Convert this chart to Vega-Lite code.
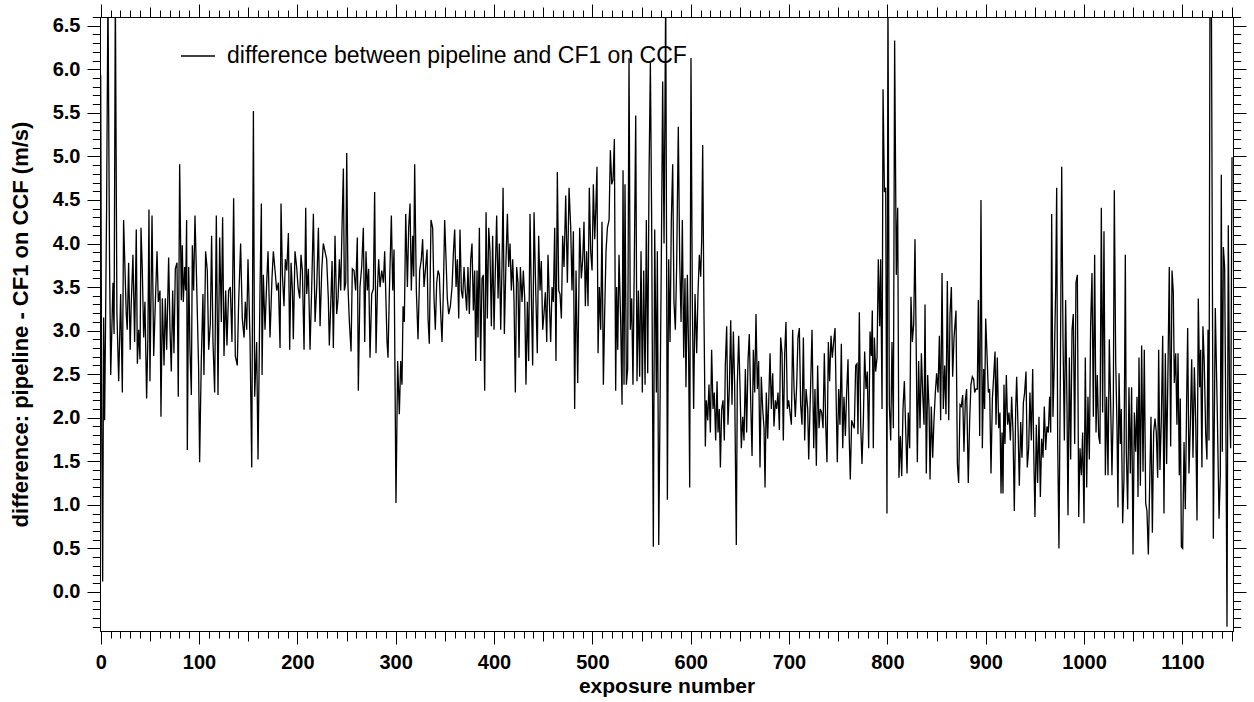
{
"$schema": "https://vega.github.io/schema/vega-lite/v6.json",
"width": 1133, "height": 614,
"autosize": {"type": "none"},
"padding": {"left": 100, "top": 17, "right": 21, "bottom": 71},
"background": "white",
"config": {"view": {"stroke": "black", "strokeWidth": 1}, "font": "Liberation Sans"},
"data": {"values": [
{"x":0,"y":5.93},{"x":1,"y":2.0},{"x":2,"y":0.12},{"x":3,"y":3.15},{"x":4,"y":1.97},{"x":5,"y":3.15},{"x":6,"y":4.4},{"x":7.4,"y":6.9},{"x":9,"y":3.8},{"x":10.2,"y":2.49},{"x":12.5,"y":3.55},{"x":13.6,"y":2.96},{"x":14.9,"y":6.9},{"x":16.5,"y":3.2},{"x":18.3,"y":2.42},{"x":20.3,"y":3.42},{"x":22,"y":2.29},{"x":23.3,"y":4.27},{"x":26,"y":3.19},{"x":27,"y":3.01},{"x":28.4,"y":3.78},{"x":30,"y":2.78},{"x":31,"y":3.28},{"x":32.8,"y":3.87},{"x":34.5,"y":2.87},{"x":36.2,"y":4.16},{"x":37.3,"y":2.62},{"x":38.6,"y":3.01},{"x":40,"y":2.67},{"x":41,"y":4.18},{"x":42.3,"y":3.71},{"x":43.7,"y":2.92},{"x":45,"y":3.33},{"x":46.7,"y":2.22},{"x":48,"y":2.92},{"x":49.1,"y":4.39},{"x":50.1,"y":2.42},{"x":52.2,"y":4.32},{"x":53.9,"y":2.71},{"x":55.6,"y":3.33},{"x":57.3,"y":3.91},{"x":58.6,"y":3.33},{"x":60.3,"y":3.46},{"x":61.3,"y":2.01},{"x":62.7,"y":3.37},{"x":64.4,"y":2.6},{"x":65.7,"y":3.37},{"x":67.1,"y":2.78},{"x":69.1,"y":3.84},{"x":70.5,"y":3.01},{"x":71.8,"y":2.53},{"x":73.2,"y":3.46},{"x":74.5,"y":2.74},{"x":75.9,"y":3.71},{"x":77.6,"y":3.78},{"x":78.9,"y":2.24},{"x":80.3,"y":4.91},{"x":82,"y":3.35},{"x":83,"y":3.98},{"x":84,"y":3.33},{"x":85.4,"y":3.73},{"x":86.4,"y":3.46},{"x":87.4,"y":4.27},{"x":88.1,"y":1.63},{"x":89.5,"y":3.73},{"x":90.8,"y":2.78},{"x":92.2,"y":2.26},{"x":93.2,"y":3.98},{"x":94.5,"y":3.46},{"x":95.9,"y":4.32},{"x":97.2,"y":3.73},{"x":98.3,"y":3.19},{"x":99.6,"y":2.56},{"x":100.6,"y":1.49},{"x":102.3,"y":2.65},{"x":104,"y":3.42},{"x":105,"y":2.49},{"x":106.7,"y":3.91},{"x":108.4,"y":3.69},{"x":109.8,"y":2.78},{"x":111.5,"y":3.08},{"x":112.8,"y":4.09},{"x":114.2,"y":2.87},{"x":115.9,"y":2.29},{"x":117.6,"y":4.32},{"x":119.3,"y":2.26},{"x":121,"y":4.07},{"x":122.7,"y":3.1},{"x":124,"y":4.3},{"x":125.4,"y":2.71},{"x":127.1,"y":3.46},{"x":128.4,"y":2.83},{"x":130.1,"y":3.46},{"x":131.8,"y":3.5},{"x":133.5,"y":2.87},{"x":135.2,"y":4.52},{"x":136.9,"y":2.71},{"x":138.9,"y":2.6},{"x":140.3,"y":3.33},{"x":142.3,"y":4.0},{"x":144,"y":3.14},
{"x":145.8,"y":2.92},{"x":147.1,"y":3.33},{"x":148.5,"y":3.01},{"x":149.8,"y":3.82},{"x":151.9,"y":2.87},{"x":153.6,"y":1.43},{"x":155.3,"y":5.52},{"x":156.6,"y":2.24},{"x":158.6,"y":2.87},{"x":160,"y":1.52},{"x":162,"y":3.46},{"x":163.4,"y":4.46},{"x":164.1,"y":2.49},{"x":165.4,"y":3.64},{"x":167.1,"y":3.01},{"x":168.8,"y":3.55},{"x":170.2,"y":3.91},{"x":172.2,"y":2.92},{"x":174.2,"y":3.6},{"x":175.6,"y":3.91},{"x":177.3,"y":3.69},{"x":179,"y":3.46},{"x":180.7,"y":3.55},{"x":182.4,"y":2.8},{"x":183.4,"y":4.46},{"x":184.8,"y":3.64},{"x":186.4,"y":3.28},{"x":187.8,"y":3.82},{"x":189.2,"y":3.69},{"x":190.9,"y":4.12},{"x":192.2,"y":2.78},{"x":193.6,"y":3.78},{"x":195,"y":3.46},{"x":195.9,"y":2.9},{"x":197.6,"y":3.91},{"x":199.3,"y":3.73},{"x":200.7,"y":3.5},{"x":202.4,"y":3.37},{"x":203.7,"y":3.87},{"x":205.1,"y":3.69},{"x":206.8,"y":2.78},{"x":208.5,"y":4.41},{"x":209.5,"y":3.42},{"x":211.2,"y":3.71},{"x":212.9,"y":2.78},{"x":214.6,"y":3.5},{"x":216.3,"y":4.34},{"x":218,"y":3.1},{"x":219.7,"y":3.5},{"x":221.4,"y":4.18},{"x":223.1,"y":3.05},{"x":224.8,"y":3.69},{"x":226.4,"y":4.0},{"x":228.1,"y":3.91},{"x":229.8,"y":3.82},{"x":231.5,"y":3.37},{"x":232.5,"y":2.83},{"x":233.9,"y":3.28},{"x":235.3,"y":3.8},{"x":236.6,"y":2.8},{"x":238.3,"y":4.09},{"x":240,"y":3.19},{"x":241.4,"y":3.37},{"x":242.7,"y":3.82},{"x":244.1,"y":3.46},{"x":245.4,"y":4.18},{"x":246.8,"y":4.86},{"x":247.8,"y":3.46},{"x":249.2,"y":3.55},{"x":250.2,"y":5.04},{"x":251.5,"y":3.5},{"x":252.9,"y":3.1},{"x":254.6,"y":2.76},{"x":255.9,"y":3.71},{"x":257.6,"y":3.69},{"x":259.3,"y":3.46},{"x":261,"y":4.07},{"x":262,"y":2.31},{"x":263.7,"y":3.5},{"x":265.4,"y":3.73},{"x":267.1,"y":4.18},{"x":268.5,"y":2.87},{"x":269.8,"y":3.91},{"x":271.2,"y":3.46},{"x":272.5,"y":3.71},{"x":273.9,"y":2.69},{"x":275.6,"y":3.42},{"x":277.3,"y":3.48},{"x":278.6,"y":4.59},{"x":280,"y":2.74},{"x":281.4,"y":3.46},{"x":282.7,"y":3.82},{"x":284.1,"y":3.5},{"x":285.8,"y":3.69},{"x":287.5,"y":3.55},{"x":288.8,"y":3.91},
{"x":291.2,"y":2.87},{"x":292.2,"y":2.69},{"x":293.6,"y":3.46},{"x":295.6,"y":4.32},{"x":297,"y":3.46},{"x":298.3,"y":3.93},{"x":300.3,"y":1.02},{"x":302,"y":2.65},{"x":303.7,"y":2.04},{"x":305.1,"y":2.65},{"x":306.4,"y":2.38},{"x":307.5,"y":3.28},{"x":308.8,"y":3.1},{"x":310.2,"y":4.34},{"x":311.9,"y":3.5},{"x":313.2,"y":4.18},{"x":314.6,"y":4.46},{"x":315.9,"y":3.46},{"x":317.3,"y":4.09},{"x":318.3,"y":3.62},{"x":319.3,"y":4.91},{"x":321,"y":3.46},{"x":322.7,"y":2.9},{"x":324.4,"y":3.69},{"x":326.1,"y":3.82},{"x":327.4,"y":4.05},{"x":328.8,"y":3.5},{"x":330.2,"y":3.69},{"x":331.9,"y":3.93},{"x":332.9,"y":3.14},{"x":334.2,"y":2.85},{"x":335.9,"y":4.27},{"x":337.6,"y":4.18},{"x":339,"y":3.37},{"x":340.3,"y":3.01},{"x":341.7,"y":3.55},{"x":343.1,"y":3.69},{"x":344.4,"y":3.64},{"x":345.8,"y":3.19},{"x":347.1,"y":2.87},{"x":348.5,"y":3.46},{"x":349.8,"y":4.27},{"x":351.2,"y":3.82},{"x":352.5,"y":3.37},{"x":353.9,"y":3.19},{"x":355.6,"y":3.28},{"x":357.3,"y":3.5},{"x":358.6,"y":3.87},{"x":360,"y":4.16},{"x":361.4,"y":3.5},{"x":362.7,"y":3.82},{"x":364.1,"y":3.14},{"x":365.4,"y":4.16},{"x":366.8,"y":3.46},{"x":368.1,"y":3.37},{"x":369.5,"y":3.73},{"x":370.8,"y":3.46},{"x":372.2,"y":3.23},{"x":373.5,"y":3.73},{"x":374.9,"y":3.19},{"x":376.3,"y":3.82},{"x":377.6,"y":4.0},{"x":379,"y":3.23},{"x":380.3,"y":3.69},{"x":381.4,"y":2.65},{"x":382.7,"y":3.69},{"x":383.7,"y":2.92},{"x":385.1,"y":4.18},{"x":386.4,"y":2.65},{"x":387.8,"y":3.6},{"x":389.1,"y":3.64},{"x":390.5,"y":2.31},{"x":391.9,"y":4.36},{"x":393.2,"y":3.14},{"x":394.6,"y":4.18},{"x":395.9,"y":3.91},{"x":397.3,"y":3.05},{"x":398.6,"y":4.09},{"x":400,"y":3.01},{"x":401.4,"y":3.73},{"x":402.7,"y":4.32},{"x":404.1,"y":3.37},{"x":405.4,"y":4.0},{"x":406.8,"y":3.01},{"x":408.1,"y":3.73},{"x":409.2,"y":4.64},{"x":410.5,"y":2.96},{"x":412.2,"y":3.82},{"x":413.6,"y":4.34},{"x":414.9,"y":3.73},{"x":416.3,"y":4.0},{"x":417.6,"y":3.46},{"x":419,"y":3.82},{"x":420.3,"y":3.37},{"x":421.7,"y":2.29},{"x":423,"y":3.73},{"x":424.4,"y":3.55},{"x":425.4,"y":2.69},{"x":426.8,"y":3.73},{"x":428.5,"y":3.33},{"x":429.8,"y":3.69},{"x":431.2,"y":3.37},{"x":432.5,"y":2.38},
{"x":433.9,"y":3.33},{"x":435.2,"y":2.65},{"x":436.6,"y":4.34},{"x":438,"y":3.37},{"x":439.3,"y":2.6},{"x":440.7,"y":4.36},{"x":442.4,"y":3.46},{"x":444,"y":2.74},{"x":445.4,"y":4.09},{"x":446.8,"y":3.46},{"x":448.1,"y":3.8},{"x":449.5,"y":3.01},{"x":450.8,"y":3.19},{"x":452.2,"y":3.44},{"x":453.6,"y":2.87},{"x":454.9,"y":3.87},{"x":456.3,"y":3.33},{"x":457.6,"y":2.87},{"x":459,"y":3.5},{"x":460.3,"y":3.33},{"x":461.7,"y":4.18},{"x":463,"y":2.65},{"x":464.4,"y":4.82},{"x":465.8,"y":3.46},{"x":467.1,"y":3.42},{"x":468.5,"y":3.14},{"x":469.8,"y":4.09},{"x":471.2,"y":3.73},{"x":472.9,"y":4.55},{"x":474.6,"y":3.55},{"x":476.3,"y":4.64},{"x":478,"y":4.18},{"x":479.3,"y":3.46},{"x":480.7,"y":4.14},{"x":482,"y":2.1},{"x":483.4,"y":3.69},{"x":485.1,"y":2.4},{"x":487.1,"y":4.18},{"x":488.8,"y":3.6},{"x":490.2,"y":3.82},{"x":491.5,"y":4.25},{"x":492.9,"y":3.28},{"x":494.2,"y":3.91},{"x":495.6,"y":3.28},{"x":496.9,"y":4.64},{"x":498.3,"y":3.91},{"x":499.7,"y":3.69},{"x":501,"y":4.68},{"x":502.4,"y":4.05},{"x":503.4,"y":4.36},{"x":504.7,"y":4.88},{"x":505.8,"y":2.74},{"x":507.1,"y":3.5},{"x":508.5,"y":3.01},{"x":509.8,"y":4.25},{"x":511.2,"y":2.38},{"x":512.5,"y":3.19},{"x":513.9,"y":3.91},{"x":515.3,"y":4.18},{"x":517,"y":4.27},{"x":518.3,"y":5.07},{"x":519.7,"y":4.68},{"x":521,"y":4.73},{"x":522.4,"y":5.2},{"x":523.7,"y":2.31},{"x":524.7,"y":3.5},{"x":525.8,"y":2.78},{"x":527.1,"y":3.87},{"x":528.8,"y":3.1},{"x":530.2,"y":2.15},{"x":531.2,"y":4.84},{"x":532.2,"y":2.38},{"x":533.2,"y":4.68},{"x":534.6,"y":2.38},{"x":535.9,"y":2.56},{"x":537.3,"y":6.13},{"x":538.6,"y":3.01},{"x":540,"y":3.37},{"x":541.3,"y":2.38},{"x":542.7,"y":3.82},{"x":544.1,"y":5.47},{"x":545.4,"y":2.42},{"x":546.8,"y":3.46},{"x":548.1,"y":2.47},{"x":549.5,"y":3.91},{"x":550.8,"y":2.29},{"x":552.2,"y":3.69},{"x":553.6,"y":2.38},{"x":554.9,"y":4.27},{"x":556.3,"y":2.51},{"x":557.6,"y":4.73},{"x":559,"y":6.08},{"x":560.3,"y":4.27},{"x":562,"y":0.52},{"x":563.4,"y":4.16},{"x":565.1,"y":2.29},{"x":566.1,"y":3.91},{"x":567.5,"y":0.54},{"x":568.8,"y":2.1},{"x":570.2,"y":3.91},{"x":571.5,"y":5.86},{"x":572.9,"y":4.0},{"x":574.6,"y":6.9},{"x":576.3,"y":1.06},{"x":577.6,"y":3.82},
{"x":579,"y":2.87},{"x":580.3,"y":4.27},{"x":581.7,"y":4.91},{"x":583,"y":3.33},{"x":584.4,"y":3.01},{"x":585.7,"y":3.73},{"x":587.4,"y":5.34},{"x":588.8,"y":3.82},{"x":590.2,"y":3.1},{"x":591.5,"y":4.27},{"x":592.9,"y":2.69},{"x":594.2,"y":3.6},{"x":595.2,"y":2.35},{"x":596.6,"y":3.64},{"x":597.9,"y":2.74},{"x":599,"y":1.2},{"x":600.3,"y":6.13},{"x":601.7,"y":3.28},{"x":603,"y":2.1},{"x":604.4,"y":3.42},{"x":606.1,"y":2.74},{"x":607.4,"y":3.42},{"x":608.8,"y":3.87},{"x":610.2,"y":3.62},{"x":611.2,"y":4.05},{"x":612.2,"y":5.13},{"x":613.5,"y":3.19},{"x":614.9,"y":1.67},{"x":615.9,"y":2.2},{"x":617.3,"y":1.97},{"x":618.6,"y":2.38},{"x":620,"y":1.83},{"x":621.3,"y":2.78},{"x":622.7,"y":2.1},{"x":624,"y":2.29},{"x":625.4,"y":1.74},{"x":626.8,"y":2.42},{"x":627.8,"y":1.83},{"x":629.1,"y":2.1},{"x":630.2,"y":1.43},{"x":631.5,"y":2.1},{"x":632.9,"y":2.2},{"x":634.2,"y":1.74},{"x":635.2,"y":2.6},{"x":636.6,"y":3.05},{"x":637.9,"y":1.92},{"x":639.3,"y":2.33},{"x":640.7,"y":3.12},{"x":642,"y":2.15},{"x":643.4,"y":2.99},{"x":644.7,"y":2.38},{"x":646.4,"y":0.54},{"x":647.4,"y":2.38},{"x":648.8,"y":2.94},{"x":650.1,"y":2.38},{"x":651.5,"y":1.65},{"x":652.9,"y":2.01},{"x":654.2,"y":1.74},{"x":655.6,"y":2.56},{"x":656.9,"y":1.83},{"x":658.3,"y":2.65},{"x":659.6,"y":2.96},{"x":661,"y":2.2},{"x":662.4,"y":1.56},{"x":663.7,"y":2.78},{"x":665.1,"y":2.29},{"x":666.4,"y":3.19},{"x":667.8,"y":2.33},{"x":669.1,"y":2.65},{"x":670.5,"y":1.43},{"x":671.8,"y":2.47},{"x":673.2,"y":2.1},{"x":674.6,"y":1.88},{"x":675.6,"y":1.2},{"x":676.9,"y":2.29},{"x":678.3,"y":1.76},{"x":679.6,"y":2.29},{"x":680.7,"y":2.74},{"x":682,"y":2.1},{"x":683.4,"y":2.51},{"x":684.7,"y":1.9},{"x":686.1,"y":2.2},{"x":687.4,"y":2.1},{"x":688.8,"y":2.29},{"x":690.2,"y":1.86},{"x":691.5,"y":2.92},{"x":692.9,"y":2.74},{"x":694.2,"y":1.74},{"x":695.6,"y":2.74},{"x":696.9,"y":3.1},{"x":698.3,"y":2.1},{"x":699.6,"y":2.2},{"x":701,"y":2.06},{"x":702.4,"y":1.92},{"x":703.7,"y":3.01},{"x":705.1,"y":2.33},{"x":706.4,"y":2.01},{"x":707.8,"y":2.38},{"x":709.1,"y":2.92},{"x":710.5,"y":3.03},{"x":711.8,"y":2.15},{"x":713.2,"y":1.92},{"x":714.6,"y":2.92},{"x":715.9,"y":1.74},{"x":717.3,"y":2.33},{"x":719,"y":2.1},{"x":720,"y":1.52},
{"x":722,"y":2.38},{"x":723.4,"y":3.01},{"x":725.1,"y":1.65},{"x":726.4,"y":2.33},{"x":727.8,"y":1.45},{"x":729.1,"y":2.6},{"x":730.5,"y":1.88},{"x":731.8,"y":2.1},{"x":733.2,"y":2.06},{"x":734.6,"y":1.88},{"x":735.9,"y":2.74},{"x":737.3,"y":1.92},{"x":738.6,"y":1.49},{"x":740,"y":2.87},{"x":741.3,"y":2.42},{"x":742.7,"y":2.94},{"x":744,"y":2.69},{"x":745.4,"y":2.87},{"x":746.8,"y":3.03},{"x":748.1,"y":2.1},{"x":749.1,"y":1.49},{"x":750.5,"y":2.33},{"x":751.8,"y":1.92},{"x":753.2,"y":2.85},{"x":754.6,"y":1.65},{"x":755.9,"y":2.24},{"x":757.3,"y":1.79},{"x":758.6,"y":2.29},{"x":760,"y":2.67},{"x":761.3,"y":1.74},{"x":762.3,"y":1.29},{"x":763.7,"y":1.97},{"x":765.1,"y":1.92},{"x":766.4,"y":1.88},{"x":767.8,"y":2.6},{"x":769.1,"y":2.62},{"x":770.1,"y":1.81},{"x":771.5,"y":3.21},{"x":772.9,"y":1.92},{"x":774.2,"y":1.47},{"x":775.6,"y":1.97},{"x":776.9,"y":2.76},{"x":778.3,"y":2.33},{"x":779.6,"y":2.53},{"x":781,"y":1.65},{"x":782.4,"y":2.99},{"x":783.7,"y":2.71},{"x":784.7,"y":3.23},{"x":785.7,"y":1.65},{"x":786.8,"y":2.92},{"x":788.1,"y":2.53},{"x":789.5,"y":2.69},{"x":790.8,"y":3.82},{"x":792.2,"y":3.05},{"x":793.2,"y":3.82},{"x":794.6,"y":2.1},{"x":795.6,"y":5.77},{"x":797,"y":4.59},{"x":798.3,"y":4.64},{"x":799.6,"y":0.9},{"x":800.6,"y":6.9},{"x":802,"y":2.15},{"x":803.4,"y":1.74},{"x":804.7,"y":2.87},{"x":806.1,"y":1.88},{"x":807.4,"y":6.33},{"x":809.1,"y":3.64},{"x":810.5,"y":4.41},{"x":811.8,"y":1.31},{"x":813.2,"y":1.79},{"x":814.6,"y":1.33},{"x":815.9,"y":2.1},{"x":817.3,"y":2.42},{"x":818.6,"y":1.88},{"x":820,"y":1.36},{"x":821.3,"y":2.06},{"x":822.7,"y":1.65},{"x":824,"y":3.39},{"x":825.4,"y":2.87},{"x":826.8,"y":3.08},{"x":828.1,"y":4.05},{"x":829.5,"y":2.65},{"x":830.5,"y":1.49},{"x":831.8,"y":2.65},{"x":833.2,"y":1.88},{"x":834.6,"y":2.74},{"x":835.9,"y":2.29},{"x":837.3,"y":1.92},{"x":838.3,"y":3.3},{"x":839.6,"y":1.36},{"x":841,"y":2.49},{"x":842.4,"y":2.1},{"x":843.4,"y":1.29},{"x":844.7,"y":2.13},{"x":846.1,"y":1.54},{"x":847.4,"y":1.97},{"x":848.8,"y":2.29},{"x":850.1,"y":2.51},{"x":851.5,"y":2.29},{"x":852.9,"y":2.94},{"x":854.2,"y":1.97},{"x":855.6,"y":3.66},{"x":856.9,"y":2.1},{"x":858.3,"y":2.6},{"x":859.6,"y":2.04},{"x":861,"y":3.57},{"x":862.4,"y":1.97},{"x":863.7,"y":3.19},{"x":865.1,"y":3.5},{"x":866.4,"y":2.47},
{"x":867.8,"y":2.92},{"x":869.8,"y":3.23},{"x":871.2,"y":1.47},{"x":872.5,"y":1.25},{"x":873.9,"y":2.15},{"x":875.2,"y":2.13},{"x":876.6,"y":2.26},{"x":877.9,"y":1.61},{"x":879.3,"y":2.2},{"x":880.6,"y":2.33},{"x":882.3,"y":1.25},{"x":883.7,"y":1.97},{"x":885,"y":2.38},{"x":886.4,"y":2.47},{"x":887.8,"y":2.44},{"x":888.8,"y":2.29},{"x":890.1,"y":2.33},{"x":891.5,"y":2.33},{"x":892.5,"y":3.35},{"x":893.9,"y":1.79},{"x":895.2,"y":4.5},{"x":896.6,"y":1.65},{"x":897.9,"y":2.56},{"x":898.9,"y":2.1},{"x":900,"y":3.14},{"x":901.3,"y":2.74},{"x":902.7,"y":2.29},{"x":904,"y":2.33},{"x":905.4,"y":1.36},{"x":906.8,"y":2.22},{"x":908.1,"y":2.47},{"x":909.5,"y":2.76},{"x":910.5,"y":1.92},{"x":911.8,"y":2.69},{"x":913.2,"y":1.88},{"x":914.5,"y":2.06},{"x":915.6,"y":1.13},{"x":916.6,"y":1.83},{"x":917.6,"y":1.13},{"x":918.6,"y":2.38},{"x":919.6,"y":1.7},{"x":921,"y":2.49},{"x":922.3,"y":1.92},{"x":923.7,"y":2.06},{"x":925.1,"y":1.74},{"x":926.4,"y":2.24},{"x":927.8,"y":1.83},{"x":929.1,"y":0.93},{"x":930.5,"y":2.1},{"x":931.5,"y":2.47},{"x":932.9,"y":1.88},{"x":934.2,"y":1.22},{"x":935.6,"y":1.95},{"x":936.9,"y":1.54},{"x":938.3,"y":2.17},{"x":939.6,"y":2.29},{"x":941,"y":2.53},{"x":942.3,"y":1.43},{"x":943.7,"y":1.65},{"x":945,"y":2.29},{"x":946.4,"y":1.74},{"x":947.8,"y":2.56},{"x":948.8,"y":1.65},{"x":950.1,"y":0.86},{"x":951.5,"y":1.92},{"x":952.8,"y":1.25},{"x":954.2,"y":2.01},{"x":955.6,"y":1.09},{"x":956.9,"y":1.76},{"x":958.3,"y":1.54},{"x":959.6,"y":2.13},{"x":961,"y":1.63},{"x":962.3,"y":1.9},{"x":963.7,"y":1.83},{"x":965,"y":2.24},{"x":966.1,"y":1.83},{"x":967.1,"y":4.34},{"x":968.4,"y":2.01},{"x":969.8,"y":2.65},{"x":971.2,"y":3.5},{"x":972.2,"y":4.64},{"x":973.2,"y":1.74},{"x":974.5,"y":0.5},{"x":975.9,"y":2.47},{"x":977.3,"y":4.88},{"x":978.6,"y":2.92},{"x":980,"y":1.74},{"x":981.3,"y":3.35},{"x":982.7,"y":2.1},{"x":983.7,"y":0.88},{"x":985.1,"y":2.69},{"x":986.4,"y":1.52},{"x":987.8,"y":3.01},{"x":989.1,"y":3.19},{"x":990.5,"y":1.7},{"x":991.8,"y":3.55},{"x":993.2,"y":3.64},{"x":994.6,"y":0.86},{"x":995.9,"y":1.65},{"x":997.3,"y":1.34},{"x":998.6,"y":1.83},{"x":1000,"y":0.79},{"x":1001.3,"y":2.69},{"x":1002.7,"y":1.2},{"x":1004,"y":2.24},{"x":1005.4,"y":1.52},{"x":1006.7,"y":3.05},{"x":1008.1,"y":3.66},{"x":1009.5,"y":2.01},{"x":1010.8,"y":3.87},
{"x":1012.2,"y":1.83},{"x":1013.5,"y":2.49},{"x":1014.9,"y":1.79},{"x":1016.2,"y":1.7},{"x":1017.6,"y":4.41},{"x":1018.9,"y":2.06},{"x":1020.3,"y":4.14},{"x":1021.7,"y":1.34},{"x":1023,"y":2.24},{"x":1024.4,"y":1.34},{"x":1025.7,"y":2.9},{"x":1027.1,"y":2.15},{"x":1028.4,"y":1.34},{"x":1029.8,"y":2.15},{"x":1030.8,"y":4.61},{"x":1032.2,"y":2.65},{"x":1033.5,"y":1.92},{"x":1034.5,"y":0.97},{"x":1035.6,"y":2.51},{"x":1036.9,"y":1.7},{"x":1037.9,"y":2.1},{"x":1039.3,"y":0.79},{"x":1040.6,"y":1.29},{"x":1042,"y":3.87},{"x":1043,"y":1.61},{"x":1044.4,"y":0.95},{"x":1045.7,"y":2.35},{"x":1047.1,"y":1.36},{"x":1048.4,"y":2.35},{"x":1049.8,"y":0.43},{"x":1051.2,"y":2.06},{"x":1052.5,"y":1.61},{"x":1053.9,"y":2.24},{"x":1054.9,"y":1.09},{"x":1055.9,"y":2.69},{"x":1057.3,"y":1.22},{"x":1058.6,"y":2.83},{"x":1060,"y":1.38},{"x":1061.3,"y":2.78},{"x":1062.7,"y":1.02},{"x":1064,"y":0.93},{"x":1065.4,"y":0.43},{"x":1066.7,"y":1.2},{"x":1068.1,"y":2.01},{"x":1069.5,"y":0.68},{"x":1070.8,"y":1.83},{"x":1072.2,"y":1.99},{"x":1073.5,"y":1.83},{"x":1074.9,"y":1.31},{"x":1075.9,"y":2.78},{"x":1077.2,"y":1.4},{"x":1078.6,"y":1.97},{"x":1080,"y":2.94},{"x":1081.3,"y":0.9},{"x":1082.7,"y":2.74},{"x":1084,"y":1.47},{"x":1085.4,"y":2.58},{"x":1086.7,"y":3.73},{"x":1088.1,"y":1.67},{"x":1089.5,"y":3.69},{"x":1090.8,"y":3.44},{"x":1091.8,"y":2.4},{"x":1093.2,"y":2.74},{"x":1094.5,"y":1.92},{"x":1095.6,"y":2.74},{"x":1096.9,"y":1.34},{"x":1097.9,"y":2.22},{"x":1099,"y":0.52},{"x":1100.3,"y":0.5},{"x":1101.7,"y":1.72},{"x":1103,"y":0.95},{"x":1104.4,"y":2.22},{"x":1105.4,"y":3.03},{"x":1106.7,"y":1.36},{"x":1108.1,"y":1.92},{"x":1109.5,"y":2.67},{"x":1110.8,"y":1.54},{"x":1112.2,"y":2.58},{"x":1113.5,"y":2.01},{"x":1114.9,"y":0.82},{"x":1116.2,"y":3.37},{"x":1117.6,"y":2.35},{"x":1118.6,"y":2.78},{"x":1119.9,"y":1.43},{"x":1120.9,"y":3.05},{"x":1122.3,"y":2.62},{"x":1123.7,"y":1.83},{"x":1125,"y":1.52},{"x":1126.1,"y":3.01},{"x":1127.1,"y":1.74},{"x":1128.1,"y":6.9},{"x":1129.5,"y":6.9},{"x":1131.5,"y":0.61},{"x":1133.5,"y":3.26},{"x":1135.6,"y":2.01},{"x":1137.3,"y":0.84},{"x":1138.6,"y":1.34},{"x":1139.6,"y":4.79},{"x":1140.6,"y":1.61},{"x":1141.7,"y":3.96},{"x":1143,"y":3.73},{"x":1144.4,"y":1.65},{"x":1145.4,"y":-0.4},{"x":1146.7,"y":4.21},{"x":1148.1,"y":2.1},{"x":1149.1,"y":1.65},{"x":1150.5,"y":4.99}
]},
"layer": [
{"mark": {"type": "line", "strokeWidth": 1.3, "clip": true},
 "encoding": {
  "x": {"field": "x", "type": "quantitative",
   "scale": {"domain": [-0.7, 1151.5], "nice": false, "zero": false},
   "axis": {"orient": "bottom", "grid": false,
    "values": [0,10,20,30,40,50,60,70,80,90,100,110,120,130,140,150,160,170,180,190,200,210,220,230,240,250,260,270,280,290,300,310,320,330,340,350,360,370,380,390,400,410,420,430,440,450,460,470,480,490,500,510,520,530,540,550,560,570,580,590,600,610,620,630,640,650,660,670,680,690,700,710,720,730,740,750,760,770,780,790,800,810,820,830,840,850,860,870,880,890,900,910,920,930,940,950,960,970,980,990,1000,1010,1020,1030,1040,1050,1060,1070,1080,1090,1100,1110,1120,1130,1140,1150],
    "format": "d",
    "labelExpr": "datum.value % 100 === 0 ? datum.label : ''",
    "tickSize": {"condition": [{"test": "datum.value % 100 === 0", "value": 13}, {"test": "datum.value % 50 === 0", "value": 10}], "value": 7},
    "tickColor": "black", "tickWidth": 1,
    "domainColor": "black", "domainWidth": 1,
    "labelFont": "Liberation Sans", "labelFontWeight": "bold", "labelFontSize": 20, "labelColor": "black",
    "labelPadding": 8, "labelFlush": false, "labelOverlap": false,
    "title": "exposure number", "titleFont": "Liberation Sans", "titleFontWeight": "bold", "titleFontSize": 21, "titleColor": "black", "titlePadding": 3
   }},
  "y": {"field": "y", "type": "quantitative",
   "scale": {"domain": [-0.448, 6.6], "nice": false, "zero": false},
   "axis": {"orient": "left", "grid": false,
    "values": [-0.4,-0.3,-0.2,-0.1,0,0.1,0.2,0.3,0.4,0.5,0.6,0.7,0.8,0.9,1.0,1.1,1.2,1.3,1.4,1.5,1.6,1.7,1.8,1.9,2.0,2.1,2.2,2.3,2.4,2.5,2.6,2.7,2.8,2.9,3.0,3.1,3.2,3.3,3.4,3.5,3.6,3.7,3.8,3.9,4.0,4.1,4.2,4.3,4.4,4.5,4.6,4.7,4.8,4.9,5.0,5.1,5.2,5.3,5.4,5.5,5.6,5.7,5.8,5.9,6.0,6.1,6.2,6.3,6.4,6.5,6.6],
    "format": ".1f",
    "labelExpr": "abs(round(datum.value * 10)) % 5 === 0 ? datum.label : ''",
    "tickSize": {"condition": {"test": "abs(round(datum.value * 10)) % 5 === 0", "value": 13}, "value": 7.7},
    "tickColor": "black", "tickWidth": 1,
    "domainColor": "black", "domainWidth": 1,
    "labelFont": "Liberation Sans", "labelFontWeight": "bold", "labelFontSize": 20, "labelColor": "black",
    "labelPadding": 7, "labelFlush": false, "labelOverlap": false,
    "title": "difference: pipeline - CF1 on CCF (m/s)", "titleFont": "Liberation Sans", "titleFontWeight": "bold", "titleFontSize": 22, "titleColor": "black", "titlePadding": 20
   }},
  "stroke": {"datum": "difference between pipeline and CF1 on CCF", "type": "nominal",
   "scale": {"range": ["black"]},
   "legend": {"orient": "none", "legendX": 80, "legendY": 21, "title": null, "padding": 0,
    "symbolType": "stroke", "symbolSize": 1156, "symbolStrokeWidth": 1.3, "symbolStrokeColor": "black",
    "labelFont": "Liberation Sans", "labelFontSize": 23, "labelColor": "black", "labelOffset": 11, "labelLimit": 1000}}
 }},
{"mark": {"type": "point", "opacity": 0, "clip": true},
 "encoding": {
  "x": {"field": "x", "type": "quantitative",
   "axis": {"orient": "top", "grid": false, "labels": false, "title": null,
    "values": [0,10,20,30,40,50,60,70,80,90,100,110,120,130,140,150,160,170,180,190,200,210,220,230,240,250,260,270,280,290,300,310,320,330,340,350,360,370,380,390,400,410,420,430,440,450,460,470,480,490,500,510,520,530,540,550,560,570,580,590,600,610,620,630,640,650,660,670,680,690,700,710,720,730,740,750,760,770,780,790,800,810,820,830,840,850,860,870,880,890,900,910,920,930,940,950,960,970,980,990,1000,1010,1020,1030,1040,1050,1060,1070,1080,1090,1100,1110,1120,1130,1140,1150],
    "tickSize": {"condition": [{"test": "datum.value % 100 === 0", "value": 13}, {"test": "datum.value % 50 === 0", "value": 10}], "value": 7},
    "tickColor": "black", "tickWidth": 1, "domainColor": "black", "domainWidth": 1
   }},
  "y": {"field": "y", "type": "quantitative",
   "axis": {"orient": "right", "grid": false, "labels": false, "title": null,
    "values": [-0.4,-0.3,-0.2,-0.1,0,0.1,0.2,0.3,0.4,0.5,0.6,0.7,0.8,0.9,1.0,1.1,1.2,1.3,1.4,1.5,1.6,1.7,1.8,1.9,2.0,2.1,2.2,2.3,2.4,2.5,2.6,2.7,2.8,2.9,3.0,3.1,3.2,3.3,3.4,3.5,3.6,3.7,3.8,3.9,4.0,4.1,4.2,4.3,4.4,4.5,4.6,4.7,4.8,4.9,5.0,5.1,5.2,5.3,5.4,5.5,5.6,5.7,5.8,5.9,6.0,6.1,6.2,6.3,6.4,6.5,6.6],
    "tickSize": {"condition": {"test": "abs(round(datum.value * 10)) % 5 === 0", "value": 13}, "value": 7.7},
    "tickColor": "black", "tickWidth": 1, "domainColor": "black", "domainWidth": 1
   }}
 }}
],
"resolve": {"axis": {"x": "independent", "y": "independent"}}
}
